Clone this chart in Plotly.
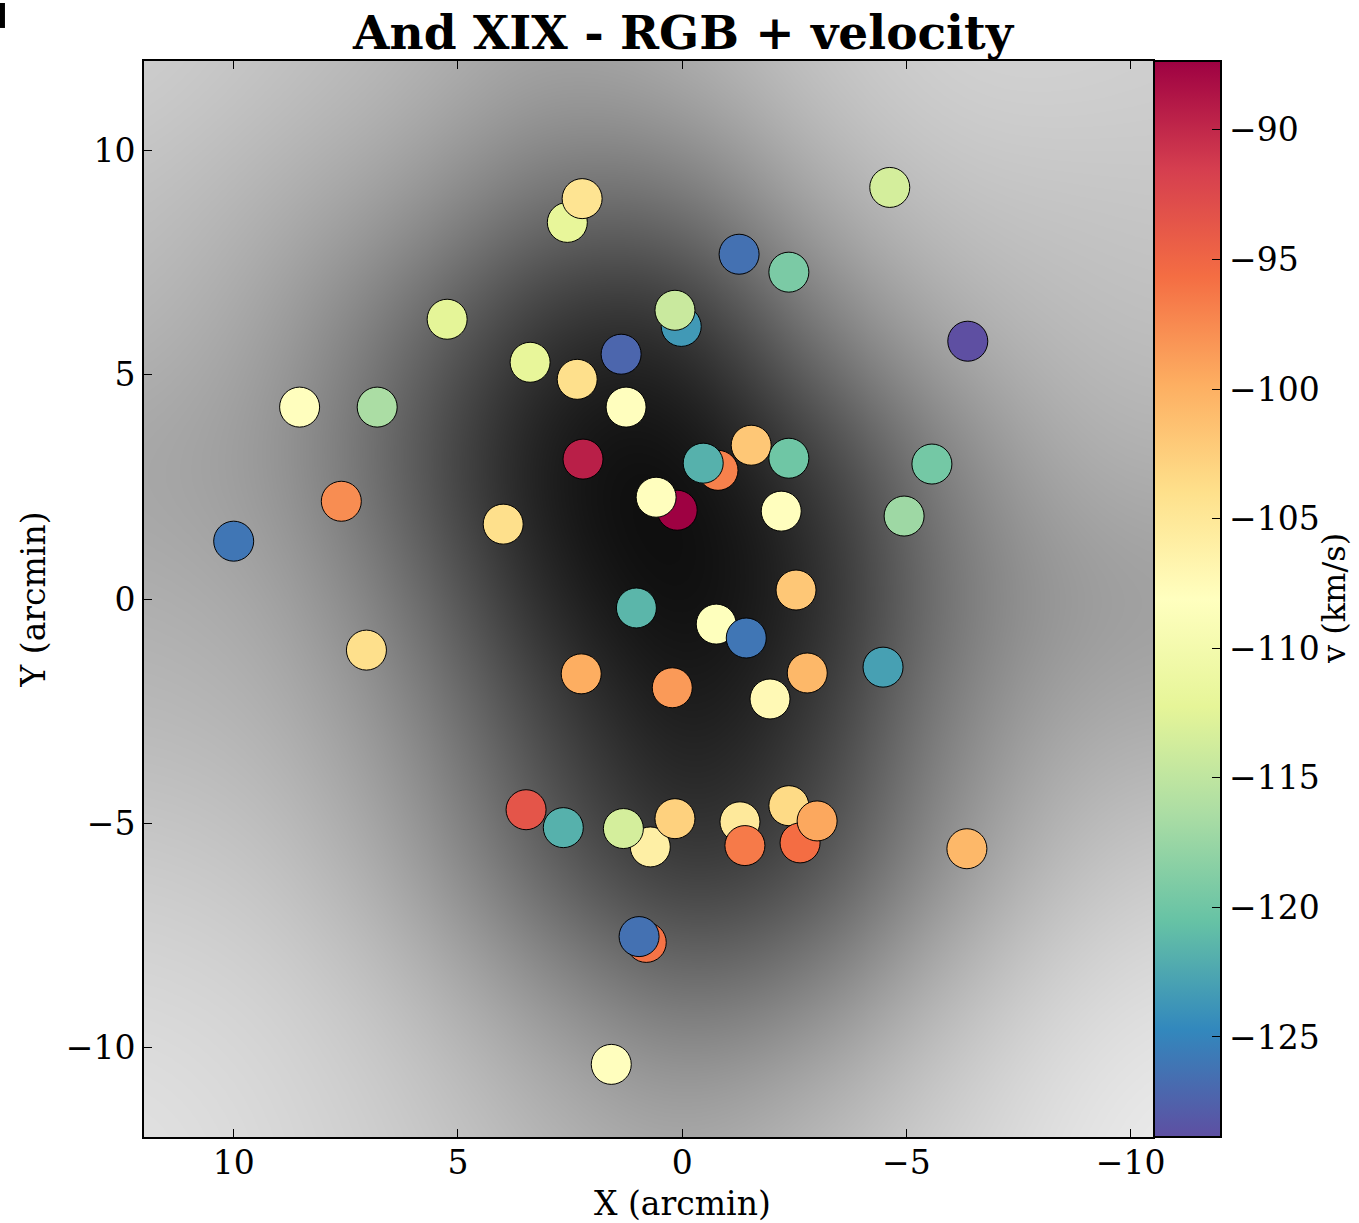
import numpy as np
import plotly.graph_objects as go

# ---- data ----
x_arcmin = [10.00, 8.53, 6.80, 7.60, 7.04, 5.24, 3.99, 3.39, 2.56, 2.23,
            2.34, 2.21, 1.36, 1.25, 0.02, 0.16, 0.11, 0.58, -0.80, -0.47,
            -1.54, -2.38, -1.27, -2.38, -4.63, -6.37, -5.57, -4.95, -2.21, -2.54,
            1.02, -0.76, -1.43, 2.25, 0.22, -2.79, -1.96, -4.48, 3.48, 2.65,
            0.71, 1.31, 0.16, -1.29, -1.40, -2.38, -2.63, -3.01, -6.35, 0.80,
            0.96, 1.58]
y_arcmin = [1.29, 4.28, 4.28, 2.18, -1.14, 6.24, 1.67, 5.28, 8.40, 8.93,
            4.90, 3.12, 5.46, 4.28, 6.08, 6.44, 1.98, 2.27, 2.87, 3.03,
            3.43, 3.14, 7.69, 7.29, 9.18, 5.75, 3.01, 1.85, 1.96, 0.20,
            -0.20, -0.56, -0.87, -1.67, -1.98, -1.65, -2.23, -1.52, -4.70, -5.10,
            -5.53, -5.12, -4.90, -4.97, -5.50, -4.61, -5.44, -4.95, -5.57, -7.66,
            -7.53, -10.38]
velocity = [-126.0, -108.0, -116.4, -97.7, -104.0, -112.3, -104.0, -112.0, -112.0, -104.5,
            -104.0, -89.4, -127.2, -108.0, -123.5, -114.3, -87.34, -108.0, -96.9, -121.8,
            -101.9, -120.0, -126.4, -119.3, -113.5, -128.86, -119.7, -117.2, -108.0, -101.9,
            -121.4, -108.3, -126.0, -99.8, -98.5, -100.6, -107.3, -123.0, -93.5, -121.8,
            -106.0, -113.5, -102.7, -105.2, -96.5, -103.5, -95.6, -99.4, -100.6, -96.0,
            -126.4, -108.0]
cbar_ticks = [-90, -95, -100, -105, -110, -115, -120, -125]
x_ticks = [10, 5, 0, -5, -10]
y_ticks = [10, 5, 0, -5, -10]

# ---- background grey levels (0 = black, 1 = white) ----
bg_x = [12, 9, 6, 3, 0, -3, -6, -9, -10.5]
bg_y = [12, 9, 6, 3, 0, -3, -6, -9, -12]
bg_grey = [
    [0.82, 0.77, 0.72, 0.64, 0.69, 0.78, 0.83, 0.83, 0.81],
    [0.76, 0.69, 0.62, 0.44, 0.45, 0.69, 0.77, 0.77, 0.78],
    [0.72, 0.63, 0.42, 0.16, 0.12, 0.50, 0.69, 0.74, 0.75],
    [0.64, 0.60, 0.33, 0.05, 0.02, 0.20, 0.53, 0.70, 0.69],
    [0.69, 0.66, 0.46, 0.12, 0.02, 0.12, 0.48, 0.60, 0.61],
    [0.73, 0.71, 0.56, 0.28, 0.07, 0.22, 0.54, 0.69, 0.68],
    [0.80, 0.77, 0.64, 0.36, 0.17, 0.28, 0.60, 0.77, 0.80],
    [0.85, 0.83, 0.75, 0.60, 0.44, 0.54, 0.75, 0.86, 0.88],
    [0.89, 0.85, 0.80, 0.72, 0.66, 0.74, 0.83, 0.90, 0.93],
]

# resample the read-off grid onto a fine raster (bilinear + gaussian blur) so it
# renders as a smooth image like the reference
step = 0.1
fx = np.arange(-10.5, 12.0 + step / 2, step)
fy = np.arange(-12.0, 12.0 + step / 2, step)
G = np.array(bg_grey)[::-1, ::-1]          # ascending y, ascending x
xa = np.array(bg_x[::-1], dtype=float)
ya = np.array(bg_y[::-1], dtype=float)
tmp = np.array([np.interp(fx, xa, row) for row in G])
fine = np.array([np.interp(fy, ya, tmp[:, j]) for j in range(len(fx))]).T

sig = 1.3 / step
k = np.arange(-int(3 * sig), int(3 * sig) + 1)
ker = np.exp(-0.5 * (k / sig) ** 2)
ker /= ker.sum()
pad = len(k) // 2
P = np.pad(fine, pad, mode="edge")
P = np.apply_along_axis(lambda v: np.convolve(v, ker, mode="same"), 1, P)
P = np.apply_along_axis(lambda v: np.convolve(v, ker, mode="same"), 0, P)
fine = P[pad:-pad, pad:-pad]

FONT = "DejaVu Serif"

fig = go.Figure()
fig.add_trace(go.Heatmap(
    x=fx, y=fy, z=fine, zmin=0, zmax=1,
    colorscale=[[0, "#000000"], [1, "#ffffff"]],
    showscale=False, zsmooth="best", hoverinfo="skip"))

fig.add_trace(go.Scatter(
    x=x_arcmin, y=y_arcmin, mode="markers",
    marker=dict(
        size=40, color=velocity, colorscale="Spectral", reversescale=True,
        cmin=-128.86, cmax=-87.34,
        line=dict(color="black", width=1),
        colorbar=dict(
            x=1.001, xanchor="left", xpad=0, ypad=0,
            y=0.5, yanchor="middle", len=1, lenmode="fraction",
            thickness=67, outlinewidth=2, outlinecolor="black",
            ticks="inside", ticklen=10, tickcolor="black", tickwidth=1,
            tickvals=cbar_ticks,
            tickfont=dict(family=FONT, size=33, color="black"),
        ),
    ),
    showlegend=False))

fig.add_shape(type="rect", xref="paper", yref="paper",
              x0=-0.1427, x1=-0.1378, y0=1.0307, y1=1.0539,
              fillcolor="black", line=dict(width=0))

# colorbar label (rotated), kept just inside the right edge
fig.add_annotation(text="v (km/s)", xref="paper", yref="paper",
                   x=(1334 - 144) / 1009, y=0.5, textangle=-90,
                   xanchor="center", yanchor="middle", showarrow=False,
                   font=dict(family=FONT, size=32, color="black"))

# x-axis label centred like the reference (over axes + colorbar)
fig.add_annotation(text="X (arcmin)", xref="paper", yref="paper",
                   x=(682 - 144) / 1009, y=-(1203 - 1137) / 1076,
                   xanchor="center", yanchor="middle", showarrow=False,
                   font=dict(family=FONT, size=33, color="black"))

fig.update_layout(
    width=1359, height=1223,
    margin=dict(l=144, r=206, t=61, b=86, autoexpand=False),
    paper_bgcolor="white", plot_bgcolor="white",
    font=dict(family=FONT, color="black"),
    title=dict(text="<b>And XIX - RGB + velocity</b>",
               x=683 / 1359, xanchor="center", xref="container",
               y=1 - 33 / 1223, yanchor="middle", yref="container",
               font=dict(family=FONT, size=47, color="black")),
    xaxis=dict(range=[12, -10.5], tickvals=x_ticks, ticks="inside", ticklen=8,
               tickwidth=1, tickcolor="black", showgrid=False, zeroline=False,
               showline=True, linewidth=2, linecolor="black", mirror="ticks",
               ticklabelstandoff=-5,
               tickfont=dict(family=FONT, size=33, color="black")),
    yaxis=dict(range=[-12, 12], tickvals=y_ticks, ticks="inside", ticklen=8,
               tickwidth=1, tickcolor="black", showgrid=False, zeroline=False,
               showline=True, linewidth=2, linecolor="black", mirror=True,
               tickfont=dict(family=FONT, size=33, color="black"),
               title=dict(text="Y (arcmin)", standoff=10,
                          font=dict(family=FONT, size=33, color="black"))),
)

fig.write_html("out.html")
